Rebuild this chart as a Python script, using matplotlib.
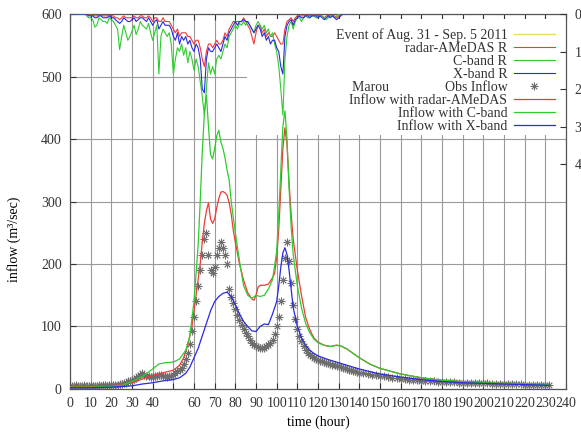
import numpy as np
import matplotlib
matplotlib.use("Agg")
import matplotlib.pyplot as plt
from matplotlib.lines import Line2D
from matplotlib.patches import Rectangle

plt.rcParams['font.family'] = ['Liberation Serif', 'DejaVu Serif']
plt.rcParams['font.size'] = 10

# ---------------- data ----------------
# Observed inflow (Marou), m3/s
obs_time = np.concatenate([np.arange(0, 141), np.arange(142, 233, 2)])
obs_flow = [5, 5, 5, 6, 5, 5, 5, 6, 5, 5, 6, 5, 5, 5, 6, 5, 6, 6, 5, 6, 6, 7, 7, 7, 8,
            8, 9, 10, 12, 13, 15, 16, 18, 20, 22, 25, 23, 21, 20, 19, 19, 20, 21, 22, 22,
            21, 20, 19, 20, 21, 23, 26, 28, 30, 34,
            40, 48, 58, 72, 92, 115, 140, 165, 190, 215, 240, 250, 215, 190, 185, 195,
            215, 225, 235, 225, 215, 200, 160, 148, 138, 128,
            118, 110, 103, 96, 90, 84, 78, 74, 70, 68, 67, 66, 65, 66, 68, 70, 73, 78, 88,
            100, 115, 140, 175, 210, 235, 205, 170, 135, 112, 96,
            85, 76, 69, 63, 58, 55, 52, 50, 48, 46, 45, 44, 43, 42, 41, 40, 39, 38, 37, 36,
            35, 34, 33, 32, 31, 30, 29, 28, 27, 26,
            25, 24, 23, 22, 21, 20, 19, 18, 17, 16, 15.5, 15, 14.5, 14, 13.5, 13, 12.5, 12,
            11.5, 11, 10.8, 10.6, 10.4, 10.2, 10, 9.8, 9.6, 9.4, 9.2, 9, 8.8, 8.6, 8.4, 8.2,
            8, 7.8, 7.6, 7.4, 7.2, 7, 6.8, 6.6, 6.4, 6.2, 6, 6]

# Simulated inflow with radar-AMeDAS rainfall
red_t = [0, 10, 20, 25, 30, 35, 40, 45, 50, 53, 55, 57, 59, 61, 63, 64, 65, 66, 67, 68,
         69, 70, 71, 72, 73, 74, 75, 76, 77, 78, 79, 80, 82, 84, 86, 88, 89, 90, 91, 92,
         94, 96, 98, 99, 100, 101, 102, 103, 104, 105, 106, 107, 108, 110, 112, 114, 116,
         118, 120, 123, 126, 129, 131, 134, 137, 140, 145, 150, 160, 170, 180, 190, 200,
         210, 220, 232]
red_v = [4, 4, 5, 7, 10, 16, 22, 26, 30, 38, 50, 70, 100, 150, 200, 235, 265, 285, 298, 272,
         265, 272, 290, 305, 315, 316, 314, 310, 298, 280, 254, 235, 200, 174, 154, 144, 142,
         150, 163, 166, 166, 168, 178, 185, 210, 255, 320, 385, 418, 390, 330, 280, 240, 190,
         150, 115, 95, 82, 75, 70, 68, 70, 69, 64, 57, 50, 40, 33, 24, 18, 14, 12, 10, 9, 8, 7]

# Simulated inflow with C-band rainfall
green_t = [0, 10, 20, 25, 30, 35, 40, 43, 46, 50, 53, 56, 58, 60, 62, 63, 64, 65, 66, 67,
           68, 69, 70, 71, 72, 73, 74, 75, 76, 77, 78, 80, 82, 84, 86, 88, 90, 92, 94, 96,
           98, 100, 101, 102, 103, 104, 105, 106, 107, 108, 110, 112, 114, 116, 118, 120,
           123, 126, 129, 131, 134, 137, 140, 145, 150, 160, 170, 180, 190, 200, 210, 220, 232]
green_v = [3, 3, 4, 6, 12, 20, 32, 40, 42, 43, 48, 62, 85, 140, 230, 300, 380, 440, 470, 420,
           375, 368, 385, 405, 414, 395, 385, 370, 350, 335, 300, 250, 205, 165, 150, 145, 150,
           148, 150, 160, 175, 220, 280, 350, 420, 445, 400, 320, 260, 215, 165, 130, 105, 90,
           80, 74, 70, 68, 70, 69, 64, 57, 50, 40, 33, 24, 18, 14, 12, 10, 9, 8, 7]

# Simulated inflow with X-band rainfall
blue_t = [0, 10, 20, 30, 35, 40, 45, 50, 53, 56, 58, 60, 62, 64, 66, 68, 70, 72, 74, 76,
          78, 80, 82, 84, 86, 88, 90, 92, 94, 96, 98, 100, 101, 102, 103, 104, 105, 106, 107,
          108, 110, 112, 114, 116, 118, 120, 125, 130, 135, 140, 145, 150, 160, 170, 180,
          190, 200, 210, 220, 232]
blue_v = [2, 2, 3, 5, 8, 10, 13, 15, 18, 25, 35, 50, 65, 85, 105, 125, 140, 148, 153, 155,
          148, 135, 120, 108, 100, 93, 92, 100, 104, 103, 120, 140, 165, 195, 218, 226, 215,
          190, 160, 130, 100, 82, 70, 62, 57, 53, 47, 42, 37, 32, 28, 24, 19, 15, 12, 10, 9,
          8, 7, 6]

# Hourly basin rainfall (mm/h), hours 0..135
rain_time = np.arange(0, 136)
red_rain = [0, 0, 0, 0, 0, 0, 0, 0,
            0, 0.3, 0.3, 0.3, 0.5, 0.5, 0.3, 0.3,
            0.5, 0.5, 0.5, 0.3, 0.5, 0.5, 1, 1,
            1.5, 1, 0.5, 1, 1, 1, 1, 0.5,
            1, 1, 0.5, 0.5, 1, 1, 0.5, 1,
            2, 1, 1, 2, 2, 1, 2, 2,
            2, 3, 4, 5, 4, 6, 5, 5,
            5, 6, 6, 7, 8, 7, 7, 9,
            12, 14, 10, 8, 8, 9, 8, 7,
            8, 8, 7, 5, 6, 4, 3, 2,
            2, 2, 2, 2, 1, 2, 3, 4,
            6, 8, 5, 3, 3, 5, 4, 6,
            5, 6, 6, 5, 6, 7, 8, 8,
            4, 2, 1.5, 1, 2, 1, 0.5, 0.5,
            0.5, 0.5, 0.3, 0.3, 0.5, 0.3, 0.3, 0.3,
            0.5, 0.3, 0.5, 1, 0.5, 0.3, 0.5, 0.3,
            0.5, 1, 0.5, 0.3, 0, 0, 0, 0]
green_rain = [0, 0, 0, 0, 0, 0, 0, 0,
              0.5, 1, 1, 1.5, 3.5, 3, 1, 1.5,
              2, 2, 2.5, 1, 1.5, 2, 3, 4,
              9.5, 6, 3, 5, 7, 6, 4.5, 3,
              5.5, 4, 2, 3, 3.5, 4, 2.5, 5,
              7, 5, 3, 16, 6, 4, 5, 6,
              5, 8, 16, 12, 9, 10, 8, 11,
              9, 13, 10, 12, 15, 12, 14, 18,
              22, 27, 20, 13, 16, 14, 16, 12,
              11, 12, 10, 8, 9, 6, 5, 4,
              3, 4, 2.5, 3, 2, 3, 2, 3,
              4, 5, 3, 2, 3, 4, 3, 5,
              4, 6, 5, 8, 10, 14, 20, 27,
              12, 6, 3, 2, 4, 2, 1, 1,
              2, 1, 0.5, 1, 1, 0.5, 0.5, 1,
              1, 0.5, 0.5, 1, 1.5, 1, 0.5, 0.5,
              1, 0.5, 0, 0, 0, 0, 0, 0]
blue_rain = [0, 0, 0, 0, 0, 0, 0, 0,
             0, 0.5, 0.5, 0.5, 1, 1, 0.5, 0.5,
             1, 1, 1, 0.5, 1, 1, 1.5, 2,
             2.5, 2, 1, 1.5, 2, 2, 1.5, 1,
             2, 1.5, 1, 1, 1.5, 2, 1, 2,
             3, 2, 1.5, 4, 3, 2, 3, 3,
             3, 4, 6, 7, 5, 8, 6, 7,
             6, 8, 7, 9, 10, 8, 9, 12,
             20, 21, 12, 9, 10, 10, 9, 8,
             9, 10, 8, 6, 7, 5, 4, 3,
             2, 3, 2, 2, 1.5, 2, 2, 3,
             4, 5, 4, 3, 4, 6, 5, 7,
             6, 8, 7, 7, 9, 10, 14, 16,
             6, 3, 2, 1.5, 3, 1.5, 1, 0.5,
             1, 1, 0.5, 0.5, 1, 0.5, 0.5, 0.5,
             1, 0.5, 1, 1.5, 1, 0.5, 1, 0.5,
             1, 1.5, 1, 0.5, 0, 0, 0, 0]

x_ticks = [0, 10, 20, 30, 40, 50, 60, 70, 80, 90, 100, 110, 120, 130, 140, 150, 160,
           170, 180, 190, 200, 210, 220, 230, 240]
x_labels = ['0', '10', '20', '30', '40', '', '60', '70', '80', '90', '100', '110', '120',
            '130', '140', '150', '160', '170', '180', '190', '200', '210', '220', '230', '240']
y_ticks = [0, 100, 200, 300, 400, 500, 600]
rain_ticks = [0, 10, 20, 30, 40]

# ---------------- styles ----------------
C_RED = '#f03a3a'
C_GREEN = '#2ecc2e'
C_BLUE = '#2a2ae0'
C_OBS = '#6e6e6e'
C_EVENT = '#e6dc6a'

fig = plt.figure(figsize=(5.81, 4.34), dpi=100)
ax = fig.add_axes([0.1205, 0.1037, 0.8537, 0.864])

ax.set_xlim(0, 240)
ax.set_ylim(0, 600)
ax.set_axisbelow(True)
ax.grid(True, color='#9a9a9a', lw=0.8)
ax.set_xticks(x_ticks)
ax.set_xticklabels(x_labels)
ax.set_yticks(y_ticks)
ax.tick_params(direction='in', top=True, right=False, length=4, width=0.8,
               labelsize=10, pad=6, colors='#333333')
for s in ax.spines.values():
    s.set_color('#555555')
    s.set_linewidth(0.9)

# opaque key area
ax.add_patch(Rectangle((0.357, 0.677), 0.643, 0.311, transform=ax.transAxes,
                       facecolor='white', edgecolor='none', zorder=1))

obs_line, = ax.plot(obs_time, obs_flow, ls='none', marker=(8, 2, 0), ms=5.5,
                    mew=0.6, color=C_OBS, zorder=2)
l_red, = ax.plot(red_t, red_v, color=C_RED, lw=0.9, zorder=3)
l_green, = ax.plot(green_t, green_v, color=C_GREEN, lw=0.9, zorder=3)
l_blue, = ax.plot(blue_t, blue_v, color=C_BLUE, lw=0.9, zorder=3)

ax.set_xlabel('time (hour)', fontsize=10, labelpad=4)
ax.set_ylabel('inflow (m³/sec)', fontsize=10)
ax.yaxis.set_label_coords(-0.099, 0.40)

# rainfall on inverted secondary axis
ax2 = ax.twinx()
ax2.set_ylim(100, 0)
ax2.set_yticks(rain_ticks)
ax2.tick_params(direction='in', length=4, width=0.8, labelsize=10, pad=6, colors='#333333')
for s in ax2.spines.values():
    s.set_visible(False)
r_red, = ax2.plot(rain_time, red_rain, color=C_RED, lw=0.8)
r_green, = ax2.plot(rain_time, green_rain, color=C_GREEN, lw=0.8)
r_blue, = ax2.plot(rain_time, blue_rain, color=C_BLUE, lw=0.8)

ev = Line2D([], [], color=C_EVENT, lw=1.0)
handles = [ev, r_red, r_green, r_blue, obs_line, l_red, l_green, l_blue]
labels = ['Event of Aug. 31 - Sep. 5 2011', 'radar-AMeDAS R', 'C-band R', 'X-band R',
          'Marou' + ' ' * 16 + 'Obs Inflow',
          'Inflow with radar-AMeDAS', 'Inflow with C-band', 'Inflow with X-band']
leg = ax2.legend(handles, labels, loc='upper right', bbox_to_anchor=(0.995, 0.987),
                 frameon=False, markerfirst=False, handlelength=2.9,
                 handletextpad=0.5, labelspacing=0.0, borderpad=0.15, fontsize=10)
for t in leg.get_texts():
    t.set_color('#333333')

fig.savefig('out.png', dpi=100)
